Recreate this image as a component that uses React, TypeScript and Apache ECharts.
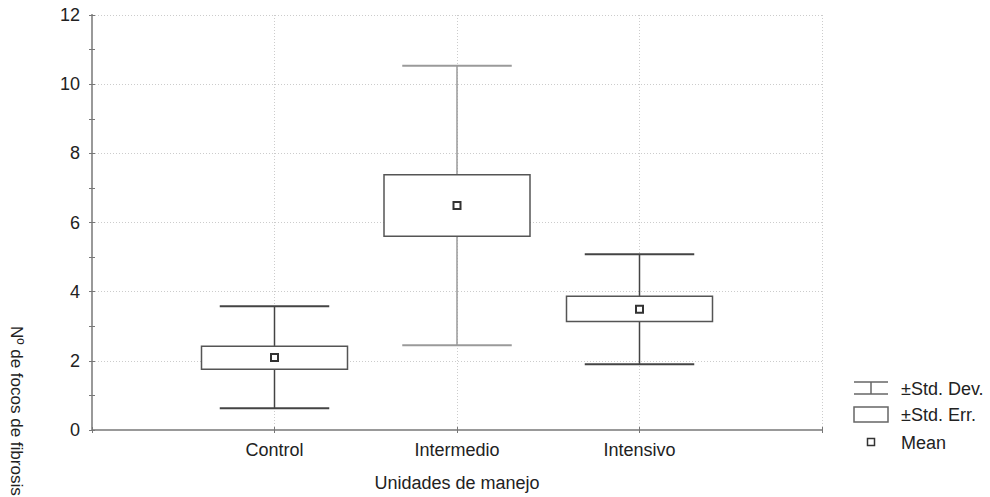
import React, { useEffect, useRef } from "react";
import * as echarts from "echarts";

const categories = ["Control", "Intermedio", "Intensivo"];
const means = [2.1, 6.49, 3.49];
const stdErrLow = [1.76, 5.6, 3.14];
const stdErrHigh = [2.42, 7.38, 3.87];
const stdDevLow = [0.63, 2.45, 1.9];
const stdDevHigh = [3.58, 10.53, 5.08];
const yTicks = [0, 2, 4, 6, 8, 10, 12];

const whiskerColors = ["#444", "#9a9a9a", "#444"];
const FONT = "'Liberation Sans', Arial, sans-serif";
const FRAME = { show: true, lineStyle: { color: "#999", width: 2 } };
const TICK = { show: true, inside: true, length: 3, lineStyle: { color: "#777" } };

export default function App() {
  const ref = useRef<HTMLDivElement>(null);
  useEffect(() => {
    if (!ref.current) return;
    const chart = echarts.init(ref.current, undefined, { renderer: "svg" });
    const data = categories.map((c, i) => [
      i + 1,
      stdDevLow[i],
      stdDevHigh[i],
      stdErrLow[i],
      stdErrHigh[i],
      means[i],
    ]);
    const legendText = { fontFamily: FONT, fontSize: 18, fill: "#222", textVerticalAlign: "middle" };
    chart.setOption({
      animation: false,
      backgroundColor: "#fff",
      grid: { left: 92, right: 168, top: 15, bottom: 66 },
      xAxis: [
        {
          type: "value",
          min: 0,
          max: 4,
          interval: 1,
          name: "Unidades de manejo",
          nameLocation: "middle",
          nameGap: 44,
          nameTextStyle: { fontFamily: FONT, fontSize: 18, color: "#222" },
          axisLine: FRAME,
          axisTick: TICK,
          axisLabel: {
            fontFamily: FONT,
            fontSize: 18,
            color: "#222",
            margin: 11,
            formatter: (v: number) => categories[v - 1] ?? "",
          },
          splitLine: {
            show: true,
            lineStyle: { color: "#ccc", type: [1, 2], width: 1 },
          },
        },
        {
          type: "value",
          position: "top",
          min: 0,
          max: 4,
          interval: 1,
          axisLine: FRAME,
          axisTick: TICK,
          axisLabel: { show: false },
          splitLine: { show: false },
        },
      ],
      yAxis: [
        {
          type: "value",
          min: 0,
          max: 12,
          interval: 2,
          axisLine: FRAME,
          axisTick: TICK,
          minorTick: { show: true, splitNumber: 2, length: 3, lineStyle: { color: "#777" } },
          axisLabel: {
            fontFamily: FONT,
            fontSize: 18,
            color: "#222",
            margin: 12,
            formatter: (v: number) => (yTicks.includes(v) ? String(v) : ""),
          },
          splitLine: {
            show: true,
            lineStyle: { color: "#ccc", type: [1, 2], width: 1 },
          },
        },
        {
          type: "value",
          position: "right",
          min: 0,
          max: 12,
          interval: 2,
          axisLine: FRAME,
          axisTick: TICK,
          minorTick: { show: true, splitNumber: 2, length: 3, lineStyle: { color: "#777" } },
          axisLabel: { show: false },
          splitLine: { show: false },
        },
      ],
      series: [
        {
          type: "custom",
          data,
          encode: { x: 0, y: [1, 2, 3, 4, 5] },
          renderItem: (params: any, api: any) => {
            const x = api.value(0);
            const idx = params.dataIndex;
            const wc = whiskerColors[idx];
            const pLow = api.coord([x, api.value(1)]);
            const pHigh = api.coord([x, api.value(2)]);
            const bLow = api.coord([x, api.value(3)]);
            const bHigh = api.coord([x, api.value(4)]);
            const pm = api.coord([x, api.value(5)]);
            const unit = api.size([1, 0])[0];
            const boxW = unit * 0.8;
            const capW = unit * 0.6;
            const cx = pLow[0];
            return {
              type: "group",
              children: [
                {
                  type: "line",
                  shape: { x1: cx, y1: bHigh[1], x2: cx, y2: pHigh[1] },
                  style: { stroke: wc, lineWidth: 1.5 },
                },
                {
                  type: "line",
                  shape: { x1: cx, y1: bLow[1], x2: cx, y2: pLow[1] },
                  style: { stroke: wc, lineWidth: 1.5 },
                },
                {
                  type: "line",
                  shape: { x1: cx - capW / 2, y1: pHigh[1], x2: cx + capW / 2, y2: pHigh[1] },
                  style: { stroke: wc, lineWidth: 2 },
                },
                {
                  type: "line",
                  shape: { x1: cx - capW / 2, y1: pLow[1], x2: cx + capW / 2, y2: pLow[1] },
                  style: { stroke: wc, lineWidth: 2 },
                },
                {
                  type: "rect",
                  shape: {
                    x: cx - boxW / 2,
                    y: bHigh[1],
                    width: boxW,
                    height: bLow[1] - bHigh[1],
                  },
                  style: { fill: "#fff", stroke: "#555", lineWidth: 1.5 },
                },
                {
                  type: "rect",
                  shape: { x: cx - 3.5, y: pm[1] - 3.5, width: 7, height: 7 },
                  style: { fill: "#fff", stroke: "#333", lineWidth: 2 },
                },
              ],
            };
          },
        },
      ],
      graphic: [
        {
          type: "text",
          x: 16,
          y: 326,
          rotation: -Math.PI / 2,
          style: {
            text: "Nº de focos de fibrosis",
            fontFamily: FONT,
            fontSize: 17,
            fill: "#222",
            textAlign: "left",
            textVerticalAlign: "middle",
          },
        },
        // legend: Std. Dev.
        {
          type: "line",
          shape: { x1: 854, y1: 382, x2: 888, y2: 382 },
          style: { stroke: "#666", lineWidth: 1.5 },
        },
        {
          type: "line",
          shape: { x1: 854, y1: 394, x2: 888, y2: 394 },
          style: { stroke: "#666", lineWidth: 1.5 },
        },
        {
          type: "line",
          shape: { x1: 871, y1: 382, x2: 871, y2: 394 },
          style: { stroke: "#666", lineWidth: 1.5 },
        },
        { type: "text", x: 901, y: 389, style: { text: "±Std. Dev.", ...legendText } },
        // legend: Std. Err.
        {
          type: "rect",
          shape: { x: 854, y: 407, width: 34, height: 15 },
          style: { fill: "#fff", stroke: "#666", lineWidth: 1.5 },
        },
        { type: "text", x: 901, y: 415, style: { text: "±Std. Err.", ...legendText } },
        // legend: Mean
        {
          type: "rect",
          shape: { x: 867.5, y: 438.5, width: 7, height: 7 },
          style: { fill: "#fff", stroke: "#333", lineWidth: 1.5 },
        },
        { type: "text", x: 901, y: 443, style: { text: "Mean", ...legendText } },
      ],
    });
    return () => chart.dispose();
  }, []);
  return <div ref={ref} style={{ width: 990, height: 497, position: "absolute", left: 0, top: 0 }} />;
}
